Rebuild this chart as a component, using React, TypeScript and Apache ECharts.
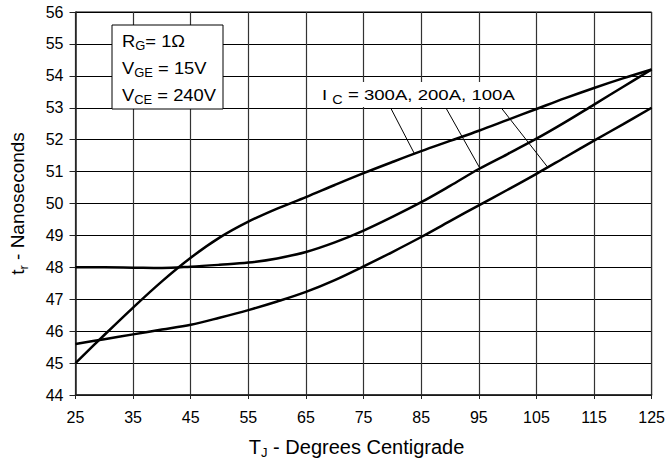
import { useEffect, useRef } from "react";
import * as echarts from "echarts";

// Junction temperature (°C)
const TJ = [25, 30, 35, 40, 45, 50, 55, 60, 65, 70, 75, 80, 85, 90, 95, 100, 105, 110, 115, 120, 125];
// Rise time tr (ns) for IC = 300A, 200A, 100A
const TR_300A = [45.0, 45.88, 46.74, 47.56, 48.3, 48.93, 49.43, 49.84, 50.2, 50.58, 50.95, 51.3, 51.64, 51.96, 52.28, 52.62, 52.96, 53.3, 53.62, 53.92, 54.2];
const TR_200A = [48.0, 48.0, 47.99, 47.98, 48.02, 48.08, 48.15, 48.28, 48.48, 48.78, 49.15, 49.58, 50.04, 50.55, 51.08, 51.55, 52.03, 52.55, 53.1, 53.65, 54.2];
const TR_100A = [45.6, 45.75, 45.9, 46.05, 46.2, 46.42, 46.66, 46.93, 47.23, 47.6, 48.03, 48.48, 48.95, 49.45, 49.94, 50.43, 50.93, 51.45, 51.97, 52.48, 53.0];

// Leader lines from the IC label to each curve: [start, end] in data units
const POINTERS = [
  [[79.8, 52.96], [83.8, 51.57]],
  [[89.4, 52.96], [95.2, 51.1]],
  [[99.05, 52.96], [106.9, 51.15]],
];

const BOX_LINES = ["{m|R}{s|G}{m|= 1Ω}", "{m|V}{s|GE}{m| = 15V}", "{m|V}{s|CE}{m| = 240V}"];
const IC_LABEL = "{m|I }{s|C}{m| = 300A, 200A, 100A}";

const X_MIN = 25, X_MAX = 125, X_STEP = 10;
const Y_MIN = 44, Y_MAX = 56, Y_STEP = 1;

const FONT = "Liberation Sans, Arial, Helvetica, sans-serif";

export default function App() {
  const ref = useRef<HTMLDivElement>(null);

  useEffect(() => {
    document.body.style.margin = "0";
    const chart = echarts.init(ref.current!, null, { renderer: "svg" });

    const toPairs = (ys: number[]) => TJ.map((x, i) => [x, ys[i]]);
    const curve = (name: string, ys: number[], extra: any = {}) => ({
      name,
      type: "line",
      data: toPairs(ys),
      smooth: 0.35,
      symbol: "none",
      lineStyle: { color: "#000", width: 2.5 },
      z: 3,
      ...extra,
    });

    const axisNameRich = {
      m: { fontSize: 20, fontFamily: FONT, color: "#000", lineHeight: 24 },
      s: { fontSize: 13, fontFamily: FONT, color: "#000", verticalAlign: "bottom", lineHeight: 24 },
    };

    chart.setOption({
      animation: false,
      backgroundColor: "#fff",
      grid: { left: 75, right: 16, top: 12, bottom: 71, containLabel: false, show: true, borderColor: "#000", borderWidth: 1 },
      xAxis: {
        type: "value",
        min: X_MIN,
        max: X_MAX,
        interval: X_STEP,
        name: "{m|T}{s|J}{m| - Degrees Centigrade}",
        nameLocation: "middle",
        nameGap: 40,
        nameTextStyle: { rich: axisNameRich, padding: [0, 14, 0, 0] },
        axisLine: { show: true, lineStyle: { color: "#222", width: 1.5 } },
        axisTick: { show: true, inside: false, length: 4, lineStyle: { color: "#222" } },
        axisLabel: { color: "#000", fontSize: 16, fontFamily: FONT, margin: 14 },
        splitLine: { show: true, lineStyle: { color: "#333", width: 1.2 } },
      },
      yAxis: {
        type: "value",
        min: Y_MIN,
        max: Y_MAX,
        interval: Y_STEP,
        name: "{n|t}{s|r}{n| - Nanoseconds}",
        nameLocation: "middle",
        nameGap: 46,
        nameTextStyle: {
          rich: {
            n: { fontSize: 19, fontFamily: FONT, color: "#000", lineHeight: 24 },
            s: axisNameRich.s,
          },
        },
        axisLine: { show: true, lineStyle: { color: "#222", width: 1.5 } },
        axisTick: { show: true, inside: false, length: 6, lineStyle: { color: "#222" } },
        axisLabel: { color: "#000", fontSize: 16, fontFamily: FONT, margin: 12 },
        splitLine: { show: true, lineStyle: { color: "#000", width: 1 } },
      },
      series: [
        curve("IC = 300A", TR_300A, {
          markLine: {
            silent: true,
            symbol: "none",
            label: { show: false },
            lineStyle: { color: "#000", width: 1, type: "solid" },
            data: POINTERS.map(([a, b]) => [{ coord: a }, { coord: b }]),
          },
        }),
        curve("IC = 200A", TR_200A),
        curve("IC = 100A", TR_100A),
      ],
      graphic: [
        {
          type: "rect",
          z: 100,
          shape: { x: 112, y: 25, width: 111, height: 84 },
          style: { fill: "#fff", stroke: "#000", lineWidth: 1 },
        },
        ...BOX_LINES.map((t, i) => ({
          type: "text",
          z: 101,
          x: 122,
          y: 41 + i * 27,
          scaleX: 1.08,
          style: {
            text: t,
            align: "left",
            verticalAlign: "middle",
            rich: {
              m: { fontSize: 17, fontFamily: FONT, fill: "#000", lineHeight: 22 },
              s: { fontSize: 12, fontFamily: FONT, fill: "#000", verticalAlign: "bottom", lineHeight: 22 },
            },
          },
        })),
        {
          type: "rect",
          z: 100,
          shape: { x: 313, y: 82, width: 216, height: 25 },
          style: { fill: "#fff" },
        },
        {
          type: "text",
          z: 101,
          x: 322,
          y: 95,
          scaleX: 1.2,
          style: {
            text: IC_LABEL,
            align: "left",
            verticalAlign: "middle",
            rich: {
              m: { fontSize: 15.5, fontFamily: FONT, fill: "#000", lineHeight: 22 },
              s: { fontSize: 12, fontFamily: FONT, fill: "#000", verticalAlign: "bottom", lineHeight: 22 },
            },
          },
        },
      ],
    });

    return () => chart.dispose();
  }, []);

  return (
    <div
      ref={ref}
      style={{ position: "absolute", left: 0, top: 0, width: 668, height: 466, background: "#fff" }}
    />
  );
}
